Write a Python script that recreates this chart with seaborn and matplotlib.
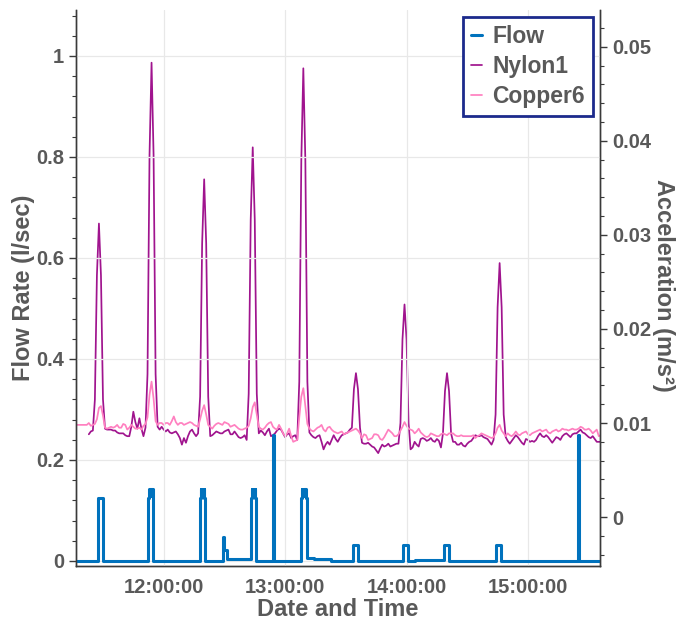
import numpy as np
import pandas as pd
import matplotlib
matplotlib.use("Agg")
import matplotlib.pyplot as plt
import matplotlib.dates as mdates
from matplotlib.ticker import MultipleLocator, FuncFormatter
import seaborn as sns

DAY = "2021-03-15"

# Flow rate (l/s) as a step signal: each value holds until the next timestamp
flow_clock = [
    "11:16:00", "11:27:42", "11:30:12",
    "11:52:24", "11:52:45", "11:53:00", "11:53:15", "11:53:30", "11:53:45",
    "11:54:00", "11:54:15", "11:54:30", "11:54:54",
    "12:18:00", "12:18:20", "12:18:35", "12:18:50", "12:19:05", "12:19:20",
    "12:19:35", "12:19:50", "12:20:05", "12:20:30",
    "12:29:12", "12:29:36", "12:30:00", "12:31:12",
    "12:43:12", "12:43:30", "12:43:45", "12:44:00", "12:44:15", "12:44:30",
    "12:44:45", "12:45:00", "12:45:12", "12:45:36",
    "12:54:12", "12:54:36",
    "13:08:00", "13:08:20", "13:08:35", "13:08:50", "13:09:05", "13:09:20",
    "13:09:35", "13:09:50", "13:10:10", "13:10:48", "13:14:12", "13:22:48",
    "13:33:30", "13:35:48",
    "13:58:18", "14:00:30", "14:04:00",
    "14:18:42", "14:21:06",
    "14:44:24", "14:46:54",
    "15:24:48", "15:25:18", "15:36:00",
]
flow_lps = [
    0.0, 0.125, 0.0,
    0.125, 0.143, 0.128, 0.143, 0.128, 0.143,
    0.128, 0.143, 0.125, 0.0,
    0.125, 0.143, 0.128, 0.143, 0.128, 0.143,
    0.128, 0.143, 0.125, 0.0,
    0.048, 0.034, 0.022, 0.004,
    0.125, 0.143, 0.128, 0.143, 0.128, 0.143,
    0.128, 0.143, 0.125, 0.0,
    0.25, 0.0,
    0.125, 0.143, 0.128, 0.143, 0.128, 0.143,
    0.128, 0.143, 0.125, 0.005, 0.003, 0.0,
    0.032, 0.0,
    0.032, 0.0, 0.002,
    0.032, 0.0,
    0.032, 0.0,
    0.25, 0.0, 0.0,
]

# Copper6 acceleration (mm/s^2), one sample per minute from 11:16
copper6_start = "11:16:00"
copper6_mm = [
    9.8, 9.8, 9.8, 9.8,
    9.8, 9.8, 9.8, 10.0, 9.7, 9.8, 9.9, 10.4, 11.6, 11.8,
    10.8, 9.5, 9.4, 9.5, 9.6, 9.5, 9.6, 9.8, 9.5, 9.5,
    9.9, 9.8, 9.3, 9.5, 9.8, 9.6, 9.4, 9.4, 9.5, 9.3,
    9.7, 9.9, 10.6, 13.0, 14.4, 12.6, 10.2, 9.8, 10.0, 10.0,
    9.8, 10.0, 10.0, 9.8, 10.2, 10.7, 10.1, 9.8, 10.0, 10.0,
    9.8, 9.9, 10.0, 10.1, 10.0, 9.8, 9.7, 9.6, 10.4, 11.3,
    11.9, 10.9, 9.8, 9.6, 9.4, 9.7, 9.9, 10.0, 9.9, 9.8,
    10.1, 10.0, 9.9, 9.6, 9.7, 9.8, 9.6, 9.4, 9.3, 9.3,
    9.4, 9.5, 9.7, 10.5, 11.7, 12.2, 10.9, 9.6, 9.4, 9.3,
    9.5, 9.8, 10.0, 10.1, 9.6, 9.4, 9.3, 9.8, 9.4, 8.9,
    8.6, 8.9, 9.4, 8.6, 8.0, 8.1, 8.2, 10.6, 12.8, 13.7,
    11.8, 9.9, 9.4, 9.2, 9.1, 9.3, 9.5, 9.6, 9.8, 9.3,
    9.1, 9.5, 9.6, 9.3, 9.1, 9.0, 8.9, 9.0, 9.1, 8.8,
    8.9, 9.0, 9.1, 9.2, 9.3, 9.4, 9.2, 8.9, 8.4, 8.8,
    8.7, 8.2, 8.3, 8.4, 8.8, 8.8, 8.7, 8.3, 8.2, 8.5,
    8.9, 9.3, 9.1, 8.9, 8.6, 8.6, 8.8, 9.2, 9.6, 10.1,
    9.7, 9.4, 9.3, 9.2, 8.9, 9.1, 9.4, 9.0, 8.8, 8.6,
    8.5, 8.6, 8.9, 8.8, 8.7, 8.6, 8.6, 8.8, 8.9, 8.8,
    8.7, 8.9, 8.9, 8.9, 8.7, 8.6, 8.6, 8.7, 8.6, 8.6,
    8.6, 8.6, 8.6, 8.7, 8.4, 8.6, 8.7, 8.9, 8.8, 8.7,
    8.6, 8.5, 8.4, 8.5, 8.9, 9.5, 9.8, 9.2, 8.9, 8.6,
    8.9, 8.7, 8.6, 8.8, 9.1, 8.8, 8.7, 8.9, 9.0, 9.1,
    8.8, 8.7, 8.9, 9.0, 9.1, 9.2, 9.3, 9.1, 9.2, 9.3,
    9.0, 8.9, 9.1, 9.2, 9.3, 9.1, 9.2, 9.4, 9.3, 9.3,
    9.2, 9.3, 9.4, 9.3, 9.3, 9.4, 9.6, 9.5, 9.3, 9.3,
    9.4, 9.2, 8.9, 9.1, 9.3, 8.6, 8.7,
]

# Nylon1 acceleration (mm/s^2), one sample per minute from 11:23
nylon1_start = "11:23:00"
nylon1_mm = [
    8.8, 9.1, 9.2, 12.5, 25.7, 31.2, 25.7,
    12.5, 9.4, 9.3, 9.3, 9.3, 9.2, 9.2, 9.0, 8.9, 8.9,
    8.9, 8.7, 8.6, 8.6, 9.6, 11.2, 10.1, 9.4, 10.5, 9.4,
    8.6, 9.5, 15.2, 38.5, 48.3, 38.5, 15.2, 9.6, 9.3, 9.6,
    9.3, 9.1, 9.3, 9.0, 8.9, 9.0, 9.1, 8.8, 8.4, 7.7,
    8.4, 7.9, 8.6, 9.1, 9.3, 8.9, 8.6, 8.9, 12.8, 29.1,
    35.9, 29.1, 12.8, 8.6, 8.7, 8.9, 9.1, 9.0, 8.9, 8.9,
    9.1, 9.2, 9.3, 8.8, 8.8, 9.1, 8.8, 8.5, 8.4, 8.5,
    8.7, 8.2, 13.1, 31.6, 39.3, 31.6, 13.1, 8.9, 9.2, 9.0,
    8.7, 9.1, 9.4, 8.6, 8.7, 8.9, 9.2, 9.4, 9.3, 8.9,
    8.5, 8.8, 8.9, 8.4, 8.6, 8.7, 8.2, 14.4, 37.9, 47.7,
    37.9, 14.4, 9.0, 8.7, 8.5, 8.4, 8.6, 8.7, 8.0, 7.2,
    7.7, 8.0, 7.7, 8.2, 8.7, 8.3, 8.0, 8.4, 8.7, 8.8,
    8.9, 9.0, 9.3, 9.5, 13.6, 15.3, 13.6, 9.5, 7.9, 7.8,
    7.8, 7.9, 7.7, 7.5, 7.4, 7.1, 6.8, 7.3, 7.7, 7.5,
    7.6, 7.8, 7.5, 7.6, 7.7, 7.8, 7.8, 10.0, 18.9, 22.6,
    18.9, 10.0, 7.2, 7.4, 8.0, 7.7, 7.5, 8.3, 8.4, 8.3,
    8.1, 8.2, 8.4, 8.1, 8.0, 8.3, 8.1, 7.4, 8.9, 13.4,
    15.3, 13.4, 8.9, 8.0, 8.0, 7.7, 7.7, 7.9, 7.6, 7.5,
    7.8, 8.0, 8.1, 8.4, 8.7, 8.6, 8.6, 8.7, 8.5, 8.4,
    8.3, 8.0, 7.7, 8.2, 10.9, 22.3, 27.0, 22.3, 10.9, 8.5,
    8.1, 7.8, 8.1, 8.4, 8.7, 8.5, 8.2, 7.9, 7.7, 8.3,
    8.2, 8.0, 8.1, 8.0, 8.2, 8.6, 8.9, 8.6, 8.5, 8.7,
    8.5, 8.2, 7.9, 8.2, 8.5, 8.4, 8.2, 8.6, 8.8, 8.9,
    8.7, 8.5, 8.8, 8.9, 8.9, 9.1, 9.3, 9.0, 8.9, 8.7,
    8.5, 8.4, 8.6, 8.3, 8.0, 8.0, 8.0,
]

x_from, x_to = "11:16:40", "15:35:36"


def minute_series(start, values):
    t0 = pd.Timestamp(f"{DAY} {start}")
    times = t0 + pd.to_timedelta(np.arange(len(values)), unit="min")
    return pd.DataFrame({"time": times, "acc": np.asarray(values) / 1000.0})


flow_df = pd.DataFrame({"time": pd.to_datetime([f"{DAY} {c}" for c in flow_clock]),
                        "flow": flow_lps})
copper_df = minute_series(copper6_start, copper6_mm)
nylon_df = minute_series(nylon1_start, nylon1_mm)

sns.set_theme(style="white")
plt.rcParams["font.family"] = ["Liberation Sans", "DejaVu Sans"]
plt.rcParams["font.weight"] = "bold"

TXT = "#595959"
SPINE = "#3a3a3a"
C_FLOW = "#0072BD"
C_NYLON = "#A0148E"
C_COPPER = "#FF80C0"

fig = plt.figure(figsize=(6.88, 6.24), dpi=100)
fig.patch.set_facecolor("white")
ax = fig.add_axes([76 / 688, 58 / 624, 524 / 688, 556 / 624])
ax2 = ax.twinx()
ax.set_zorder(ax2.get_zorder() + 1)
ax.patch.set_visible(False)
ax2.set_facecolor("white")

sns.lineplot(data=nylon_df, x="time", y="acc", ax=ax2, color=C_NYLON,
             linewidth=1.25, label="Nylon1", legend=False, estimator=None)
sns.lineplot(data=copper_df, x="time", y="acc", ax=ax2, color=C_COPPER,
             linewidth=1.25, label="Copper6", legend=False, estimator=None)
sns.lineplot(data=flow_df, x="time", y="flow", ax=ax, color=C_FLOW,
             linewidth=2.2, drawstyle="steps-post", label="Flow",
             legend=False, estimator=None, sort=False)

ax.set_xlim(pd.Timestamp(f"{DAY} {x_from}"), pd.Timestamp(f"{DAY} {x_to}"))
ax.set_ylim(-0.01, 1.091)
ax2.set_ylim(-0.0052, 0.0539)

ax.xaxis.set_major_locator(mdates.HourLocator())
ax.xaxis.set_major_formatter(mdates.DateFormatter("%H:%M:%S"))
ax.yaxis.set_major_locator(MultipleLocator(0.2))
ax.yaxis.set_minor_locator(MultipleLocator(0.04))
ax.yaxis.set_major_formatter(FuncFormatter(lambda v, p: f"{v:g}"))
ax2.yaxis.set_major_locator(MultipleLocator(0.01))
ax2.yaxis.set_minor_locator(MultipleLocator(0.002))
ax2.yaxis.set_major_formatter(FuncFormatter(lambda v, p: f"{v:g}" if abs(v) > 1e-9 else "0"))

for a in (ax, ax2):
    a.tick_params(axis="both", which="major", direction="out", length=5,
                  width=1, color=SPINE, labelcolor=TXT, labelsize=14.5)
    a.tick_params(axis="y", which="minor", direction="out", length=3,
                  width=0.8, color=SPINE)
    a.spines["top"].set_visible(False)
    for s in ("left", "right", "bottom"):
        a.spines[s].set_color(SPINE)
        a.spines[s].set_linewidth(1.0)
    for lab in a.get_xticklabels() + a.get_yticklabels():
        lab.set_fontweight("bold")

ax.grid(True, which="major", color="#E8E8E8", linewidth=0.9)
ax2.grid(False)

ax.set_xlabel("Date and Time", fontsize=17, fontweight="bold", color=TXT, labelpad=1)
ax.set_ylabel("Flow Rate (l/sec)", fontsize=17, fontweight="bold", color=TXT,
              rotation=90, va="center")
ax.yaxis.set_label_coords(-0.1, 0.5)
ax2.set_ylabel("Acceleration (m/s²)", fontsize=17, fontweight="bold", color=TXT,
               rotation=270, va="center")
ax2.yaxis.set_label_coords(1.121, 0.505)

h1, l1 = ax.get_legend_handles_labels()
h2, l2 = ax2.get_legend_handles_labels()
leg = ax.legend(h1 + h2, l1 + l2, loc="upper right", bbox_to_anchor=(1.0, 1.0),
                borderaxespad=0.3, frameon=True, fancybox=False,
                edgecolor="#1C2A8C", facecolor="white", framealpha=1,
                prop={"size": 16.5, "weight": "bold"},
                handlelength=0.5, handletextpad=0.45, labelspacing=0.3,
                borderpad=0.35)
leg.get_frame().set_linewidth(2.0)
for t in leg.get_texts():
    t.set_color(TXT)

fig.savefig("out.png", dpi=100, facecolor="white")
